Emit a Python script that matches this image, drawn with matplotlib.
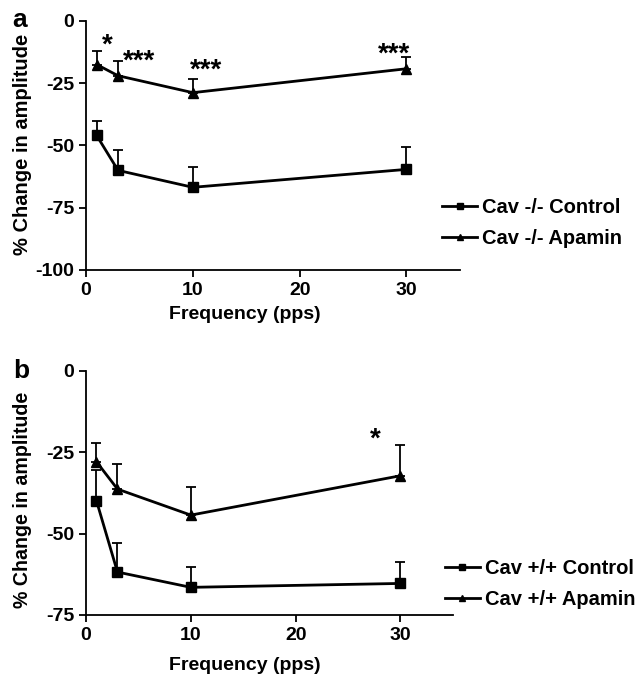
import numpy as np
import matplotlib
matplotlib.use("Agg")
import matplotlib.pyplot as plt
from matplotlib.lines import Line2D

plt.rcParams['font.family'] = ['Liberation Sans', 'DejaVu Sans']
plt.rcParams['font.weight'] = 'bold'
plt.rcParams['axes.unicode_minus'] = False

# frequencies (pps)
freq = [1, 3, 10, 30]

# panel a: Cav -/-
ko_control = [-46, -60, -66.8, -59.6]
ko_control_err = [6, 8, 8, 9]
ko_apamin = [-17.5, -22, -28.8, -19.2]
ko_apamin_err = [5.5, 6, 5.5, 4.8]
ko_stars = ["*", "***", "***", "***"]
ko_star_x = [2.0, 5.0, 11.2, 28.8]
ko_star_y = [-6.6, -13.1, -16.5, -10.3]

# panel b: Cav +/+
wt_control = [-39.9, -61.8, -66.5, -65.3]
wt_control_err = [9.4, 8.8, 6.3, 6.7]
wt_apamin = [-27.9, -36.3, -44.3, -32.2]
wt_apamin_err = [5.9, 7.7, 8.7, 9.6]
wt_stars = ["*"]
wt_star_x = [27.6]
wt_star_y = [-18.7]


def draw_panel(ax, ctrl, ctrl_err, apa, apa_err, labels, ymin, yticks):
    zeros = [0] * len(freq)
    ax.errorbar(freq, ctrl, yerr=[zeros, ctrl_err], color='black', lw=2,
                marker='s', ms=7, capsize=3.3, elinewidth=1.3, capthick=1.3)
    ax.errorbar(freq, apa, yerr=[zeros, apa_err], color='black', lw=2,
                marker='^', ms=7, capsize=3.3, elinewidth=1.3, capthick=1.3)
    ax.set_xlim(0, 35)
    ax.set_ylim(ymin, 0)
    ax.set_xticks([0, 10, 20, 30])
    ax.set_yticks(yticks)
    ax.spines['top'].set_visible(False)
    ax.spines['right'].set_visible(False)
    for s in ['left', 'bottom']:
        ax.spines[s].set_linewidth(1.3)
    ax.tick_params(direction='out', length=5, width=1.3, labelsize=14)
    for t in ax.get_xticklabels() + ax.get_yticklabels():
        t.set_fontweight('bold')
    ax.set_xlabel("Frequency (pps)", fontsize=14, fontweight='bold')
    handles = [Line2D([], [], color='black', lw=2, marker='s', ms=5),
               Line2D([], [], color='black', lw=2, marker='^', ms=5)]
    ax.legend(handles, labels, loc='center left', frameon=False, fontsize=14.5,
              handlelength=1.75, handletextpad=0.25, labelspacing=0.6,
              borderaxespad=0)


def add_stars(ax, stars, xs, ys):
    # asterisk glyph sits well above the baseline, so shift down to centre it
    for s, x, y in zip(stars, xs, ys):
        ax.annotate(s, (x, y), xytext=(0, -11), textcoords='offset points',
                    ha='center', va='baseline', fontsize=20, fontweight='bold')


fig = plt.figure(figsize=(6.37, 6.75), dpi=100)
ax1 = fig.add_axes([0.135, 0.6, 0.587, 0.369])
ax2 = fig.add_axes([0.135, 0.0889, 0.576, 0.3615])

draw_panel(ax1, ko_control, ko_control_err, ko_apamin, ko_apamin_err,
           ["Cav -/- Control", "Cav -/- Apamin"], -100, [-100, -75, -50, -25, 0])
draw_panel(ax2, wt_control, wt_control_err, wt_apamin, wt_apamin_err,
           ["Cav +/+ Control", "Cav +/+ Apamin"], -75, [-75, -50, -25, 0])

ax1.set_ylabel("% Change in amplitude", fontsize=14.5, fontweight='bold')
ax2.set_ylabel("% Change in amplitude", fontsize=14.1, fontweight='bold')
ax1.yaxis.set_label_coords(-0.144, 0.506)
ax2.yaxis.set_label_coords(-0.147, 0.47)
ax1.xaxis.set_label_coords(0.425, -0.146)
ax2.xaxis.set_label_coords(0.433, -0.174)

add_stars(ax1, ko_stars, ko_star_x, ko_star_y)
add_stars(ax2, wt_stars, wt_star_x, wt_star_y)

ax1.get_legend().set_bbox_to_anchor((0.955 - 9 / 374, 0.19))
ax2.get_legend().set_bbox_to_anchor((0.975 - 7 / 367, 0.11 + 4 / 244))

fig.text(0.02, 0.97, "a", fontsize=19, fontweight='bold', va='center')
fig.text(0.02, 0.451, "b", fontsize=19, fontweight='bold', va='center')

fig.savefig("out.png", dpi=100)
